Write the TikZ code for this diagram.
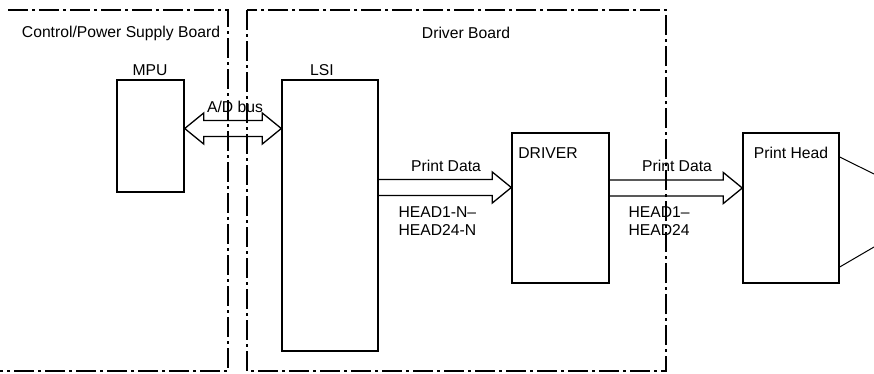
\documentclass[tikz,border=0pt]{standalone}
\usepackage{fontspec}
\setmainfont{Liberation Sans}
\usetikzlibrary{calc}
\tikzset{every node/.style={font=\fontsize{15.7}{18}\selectfont},
  board/.style={line width=1.5pt,dash pattern=on 20pt off 4pt on 3pt off 4pt},
  unit/.style={draw,line width=1.4pt,inner sep=0pt}}
% hollow bus arrows, #1 from, #2 to, #3 height of the middle line
\newcommand{\fatarrow}[3]
{\draw[line width=1.3pt] (#1.east |- 0,#3) ++(0,-8)
   -- ($(#2.west |- 0,#3)+(-19,-8)$) -- ++(0,-7.5) -- (#2.west |- 0,#3)
   -- ++(-19,15.5) -- ++(0,-7.5) -- ($(#1.east |- 0,#3)+(0,8)$);}
\newcommand{\dblarrow}[3]
{\draw[line width=1.3pt] (#1.east |- 0,#3) -- ++(19,-15.5) -- ++(0,7.5)
   -- ($(#2.west |- 0,#3)+(-19,-8)$) -- ++(0,-7.5) -- (#2.west |- 0,#3)
   -- ++(-19,15.5) -- ++(0,-7.5) -- ($(#1.east |- 0,#3)+(19,8)$)
   -- ++(0,7.5) -- cycle;}

\begin{document}
\begin{tikzpicture}[x=1pt,y=-1pt]
  \useasboundingbox (0,0) rectangle (874,373);
  \draw[board] (8,10) -| (228,371) -- (0,371);
  \draw[board] (247,10) rectangle (666,371);
  \node (ctlbrd) at (121,33) {Control/Power Supply Board};
  \node (drvbrd) at (466,33) {Driver Board};
  \node[unit,minimum width=67pt,minimum height=112pt] (mpu) at (150.5,136) {};
  \node[unit,minimum width=96pt,minimum height=271pt] (lsi) at (330,215.5) {};
  \node[unit,minimum width=97pt,minimum height=150pt] (drv) at (560.5,208) {};
  \node[unit,minimum width=96pt,minimum height=150pt] (head) at (791,208) {};
  \node (mpulbl) at (150,70) {MPU};
  \node (lsilbl) at (322,70) {LSI};
  \node (drvlbl) at (548,153) {DRIVER};
  \node (headlbl) at (791,153) {Print Head};
  \dblarrow{mpu}{lsi}{128.5}
  \fatarrow{lsi}{drv}{187.5}
  \fatarrow{drv}{head}{188}
  \node (adbus) at (235,107) {A/D bus};
  \foreach \x/\n in {446/pdata1,677/pdata2} \node (\n) at (\x,166) {Print Data};
  \node[anchor=west,align=left] (sig1) at (395,221) {HEAD1-N\textendash\\HEAD24-N};
  \node[anchor=west,align=left] (sig2) at (625,221) {HEAD1\textendash\\HEAD24};
  \coordinate (nzup) at (874,174);
  \coordinate (nzdn) at (874,247);
  \draw[line width=1pt] (head.east |- 0,157) -- (nzup);
  \draw[line width=1pt] (head.east |- 0,267) -- (nzdn);
\end{tikzpicture}
\end{document}
